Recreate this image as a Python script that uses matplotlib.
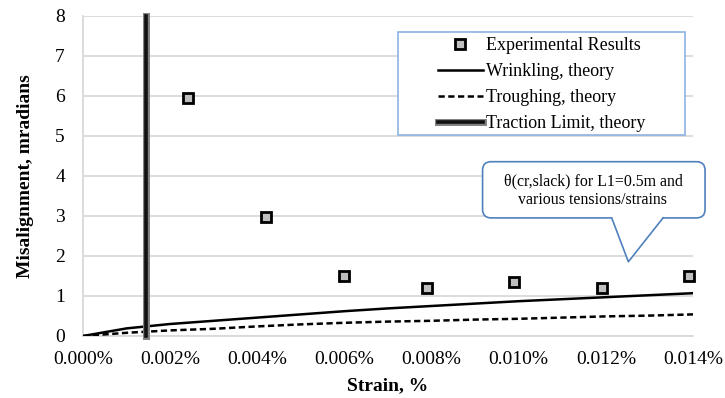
import matplotlib.pyplot as plt
import matplotlib.patheffects as pe
from matplotlib.patches import FancyBboxPatch, Polygon, Rectangle
from matplotlib.lines import Line2D

plt.rcParams['font.family'] = ['Liberation Serif', 'DejaVu Serif']

# Experimental misalignment vs strain
exp_strain = [0.0024, 0.0042, 0.0060, 0.0079, 0.0099, 0.0119, 0.0139]
exp_misalign = [5.95, 2.97, 1.50, 1.20, 1.36, 1.20, 1.50]

# Theory curves
theory_strain = [0.000, 0.001, 0.002, 0.003, 0.004, 0.005, 0.006, 0.007,
                 0.008, 0.009, 0.010, 0.011, 0.012, 0.013, 0.014]
wrinkling = [0.00, 0.19, 0.30, 0.38, 0.46, 0.54, 0.62, 0.69,
             0.75, 0.81, 0.87, 0.92, 0.97, 1.02, 1.07]
troughing = [0.00, 0.08, 0.14, 0.18, 0.24, 0.29, 0.33, 0.36,
             0.38, 0.41, 0.43, 0.46, 0.49, 0.51, 0.54]

# Traction limit (vertical line)
traction_strain = [0.00145, 0.00145]
traction_misalign = [0, 8]

x_ticks = [0.000, 0.002, 0.004, 0.006, 0.008, 0.010, 0.012, 0.014]
y_ticks = [0, 1, 2, 3, 4, 5, 6, 7, 8]

fig = plt.figure(figsize=(7.25, 3.98), dpi=100)
ax = fig.add_axes([0.1145, 0.1558, 0.8414, 0.804])

ax.plot(exp_strain, exp_misalign, linestyle='none', marker='s', markersize=7,
        markerfacecolor='#BFBFBF', markeredgecolor='black', markeredgewidth=2,
        label='Experimental Results', zorder=5, clip_on=False)
ax.plot(theory_strain, wrinkling, color='black', lw=1.8, label='Wrinkling, theory', zorder=4)
ax.plot(theory_strain, troughing, color='black', lw=1.8, linestyle=(0, (2.5, 1.4)),
        label='Troughing, theory', zorder=4)
ax.plot(traction_strain, traction_misalign, color='#111111', lw=2.6,
        path_effects=[pe.Stroke(linewidth=5, foreground='#808080'), pe.Normal()],
        label='Traction Limit, theory', zorder=4, clip_on=False)

ax.set_xlim(0, 0.014)
ax.set_ylim(0, 8)
ax.set_xticks(x_ticks)
ax.set_xticklabels([f"{v:.3f}%" for v in x_ticks])
ax.set_yticks(y_ticks)
ax.tick_params(axis='both', length=0, labelsize=14)
ax.tick_params(axis='x', pad=11)
ax.tick_params(axis='y', pad=13)

ax.grid(axis='y', color='#D9D9D9', lw=1.3)
ax.set_axisbelow(True)
for side in ['top', 'right']:
    ax.spines[side].set_visible(False)
for side in ['left', 'bottom']:
    ax.spines[side].set_color('#D9D9D9')
    ax.spines[side].set_linewidth(1.3)

ax.set_xlabel('Strain, %', fontsize=14, fontweight='bold')
ax.set_ylabel('Misalignment, mradians', fontsize=14, fontweight='bold')
ax.xaxis.set_label_coords(0.5, -0.128)
ax.yaxis.set_label_coords(-0.08, 0.5)

# Legend with its own framed box
leg = ax.legend(loc='center', bbox_to_anchor=(0.752, 0.786), frameon=False,
                fontsize=13, handlelength=2.5, handletextpad=0.2,
                labelspacing=0.5, borderpad=0.1)
leg.set_zorder(8)
ax.add_patch(Rectangle((0.516, 0.628), 0.471, 0.322, transform=ax.transAxes,
                       facecolor='white', edgecolor='#8DB3E2', lw=1.2, zorder=7))

# Callout box
box_color = '#4F81BD'
aspect = 610 / 320
ax.add_patch(FancyBboxPatch((0.655, 0.369), 0.3647, 0.1757, transform=ax.transAxes,
                            boxstyle='round,pad=0,rounding_size=0.014',
                            mutation_aspect=aspect, facecolor='white',
                            edgecolor=box_color, lw=1.2, zorder=7, clip_on=False))
tail = [(0.8667, 0.372), (0.894, 0.232), (0.9508, 0.372)]
ax.add_patch(Polygon(tail, closed=True, transform=ax.transAxes, facecolor='white',
                     edgecolor='none', zorder=8, clip_on=False))
ax.add_line(Line2D([0.8667, 0.894, 0.9508], [0.369, 0.232, 0.369], transform=ax.transAxes,
                   color=box_color, lw=1.2, zorder=9, clip_on=False))
ax.text(0.836, 0.454, 'θ(cr,slack) for L1=0.5m and\nvarious tensions/strains',
        transform=ax.transAxes, ha='center', va='center', fontsize=11.4,
        linespacing=1.25, zorder=10)

fig.savefig('out.png', dpi=100)
